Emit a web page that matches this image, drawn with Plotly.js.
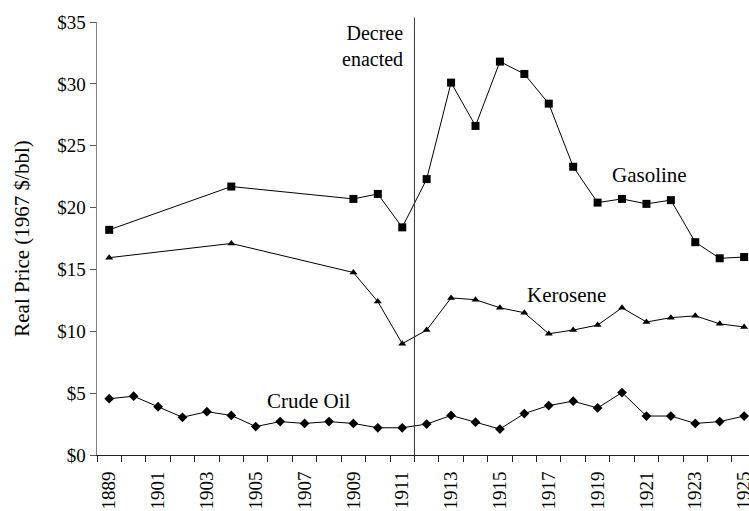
<!DOCTYPE html>
<html>
<head>
<meta charset="utf-8">
<script src="https://cdn.plot.ly/plotly-3.0.1.min.js"></script>
<style>html,body{margin:0;padding:0;background:#fff;}#chart{width:749px;height:511px;}</style>
</head>
<body>
<div id="chart"></div>
<script>
// Categories (years as labelled on the original chart)
const years = ['1889','1900','1901','1902','1903','1904','1905','1906','1907','1908','1909','1910',
  '1911','1912','1913','1914','1915','1916','1917','1918','1919','1920','1921','1922','1923','1924','1925'];
const tickLabels = ['1889','1901','1903','1905','1907','1909','1911','1913','1915','1917','1919','1921','1923','1925'];

// Real price, 1967 $/bbl
const gasoline = [18.2, null, null, null, null, 21.7, null, null, null, null, 20.7, 21.1,
  18.4, 22.3, 30.1, 26.6, 31.8, 30.8, 28.4, 23.3, 20.4, 20.7, 20.3, 20.6, 17.2, 15.9, 16.0];
const kerosene = [15.95, null, null, null, null, 17.1, null, null, null, null, 14.75, 12.4,
  9.0, 10.1, 12.7, 12.55, 11.9, 11.5, 9.8, 10.1, 10.5, 11.9, 10.75, 11.1, 11.25, 10.6, 10.35];
const crude = [4.55, 4.75, 3.9, 3.05, 3.5, 3.2, 2.3, 2.7, 2.55, 2.7, 2.55, 2.2,
  2.2, 2.5, 3.2, 2.65, 2.1, 3.35, 4.0, 4.35, 3.8, 5.05, 3.15, 3.15, 2.55, 2.7, 3.15];

const decreeYear = '1911';
const FONT = 'Liberation Serif, Times New Roman, serif';

const lineStyle = {color: '#000', width: 1};
const traces = [
  {x: years, y: gasoline, type: 'scatter', mode: 'lines+markers', connectgaps: true,
   line: lineStyle, marker: {symbol: 'square', size: 8, color: '#000'}, name: 'Gasoline', hoverinfo: 'x+y'},
  {x: years, y: kerosene, type: 'scatter', mode: 'lines+markers', connectgaps: true,
   line: lineStyle, marker: {symbol: 'triangle-up', size: 7, color: '#000'}, name: 'Kerosene', hoverinfo: 'x+y'},
  {x: years, y: crude, type: 'scatter', mode: 'lines+markers',
   line: lineStyle, marker: {symbol: 'diamond', size: 7.5, color: '#000'}, name: 'Crude Oil', hoverinfo: 'x+y'},
  // helper trace that carries the boundary tick axis
  {x: years, y: crude, xaxis: 'x2', type: 'scatter', mode: 'lines', line: {width: 0, color: 'rgba(0,0,0,0)'},
   hoverinfo: 'skip', showlegend: false}
];

const decreeX = years.indexOf(decreeYear) + 0.5;
const xRange = [-0.5, years.length - 0.8];

const layout = {
  width: 749, height: 511,
  margin: {l: 97, r: 0, t: 22, b: 56},
  paper_bgcolor: '#fff', plot_bgcolor: '#fff',
  showlegend: false,
  font: {family: FONT, size: 19, color: '#000'},
  xaxis: {
    type: 'category', categoryorder: 'array', categoryarray: years,
    range: xRange, tickmode: 'array', tickvals: tickLabels, ticktext: tickLabels,
    tickangle: -90, ticks: 'outside', ticklen: 8, tickcolor: 'rgba(0,0,0,0)',
    showline: true, linecolor: '#222', linewidth: 1, showgrid: false, zeroline: false,
    tickfont: {family: FONT, size: 19, color: '#000'}
  },
  xaxis2: {
    type: 'category', categoryorder: 'array', categoryarray: years,
    overlaying: 'x', anchor: 'y', side: 'bottom', matches: 'x', range: xRange,
    tickmode: 'array', tickvals: years, tickson: 'boundaries',
    ticks: 'outside', ticklen: 6, tickcolor: '#222', tickwidth: 1,
    showticklabels: false, showgrid: false, showline: false, zeroline: false
  },
  yaxis: {
    range: [0, 35], dtick: 5, tick0: 0, tickprefix: '$',
    ticks: 'outside', ticklen: 6, tickcolor: '#555', tickwidth: 1,
    showline: true, linecolor: '#808080', linewidth: 1.5, showgrid: false, zeroline: false,
    tickfont: {family: FONT, size: 19, color: '#000'},
    title: {text: 'Real Price (1967 $/bbl)', font: {family: FONT, size: 21, color: '#000'}, standoff: 22}
  },
  shapes: [{type: 'line', xref: 'x', yref: 'paper', x0: decreeX, x1: decreeX, y0: 0, y1: 1.01,
    line: {color: '#333', width: 1}}],
  annotations: [
    {text: 'Decree<br>enacted', xref: 'x', yref: 'y', x: decreeX, y: 33.1, xanchor: 'right', yanchor: 'middle',
     xshift: -9, align: 'right', showarrow: false, font: {family: FONT, size: 20, color: '#000'}},
    {text: 'Gasoline', xref: 'x', yref: 'y', x: 22.14, y: 22.64, showarrow: false,
     font: {family: FONT, size: 21, color: '#000'}},
    {text: 'Kerosene', xref: 'x', yref: 'y', x: 18.74, y: 12.95, showarrow: false,
     font: {family: FONT, size: 21, color: '#000'}},
    {text: 'Crude Oil', xref: 'x', yref: 'y', x: 8.17, y: 4.34, showarrow: false,
     font: {family: FONT, size: 21, color: '#000'}}
  ]
};

Plotly.newPlot('chart', traces, layout, {displayModeBar: false, staticPlot: true});
</script>
</body>
</html>
